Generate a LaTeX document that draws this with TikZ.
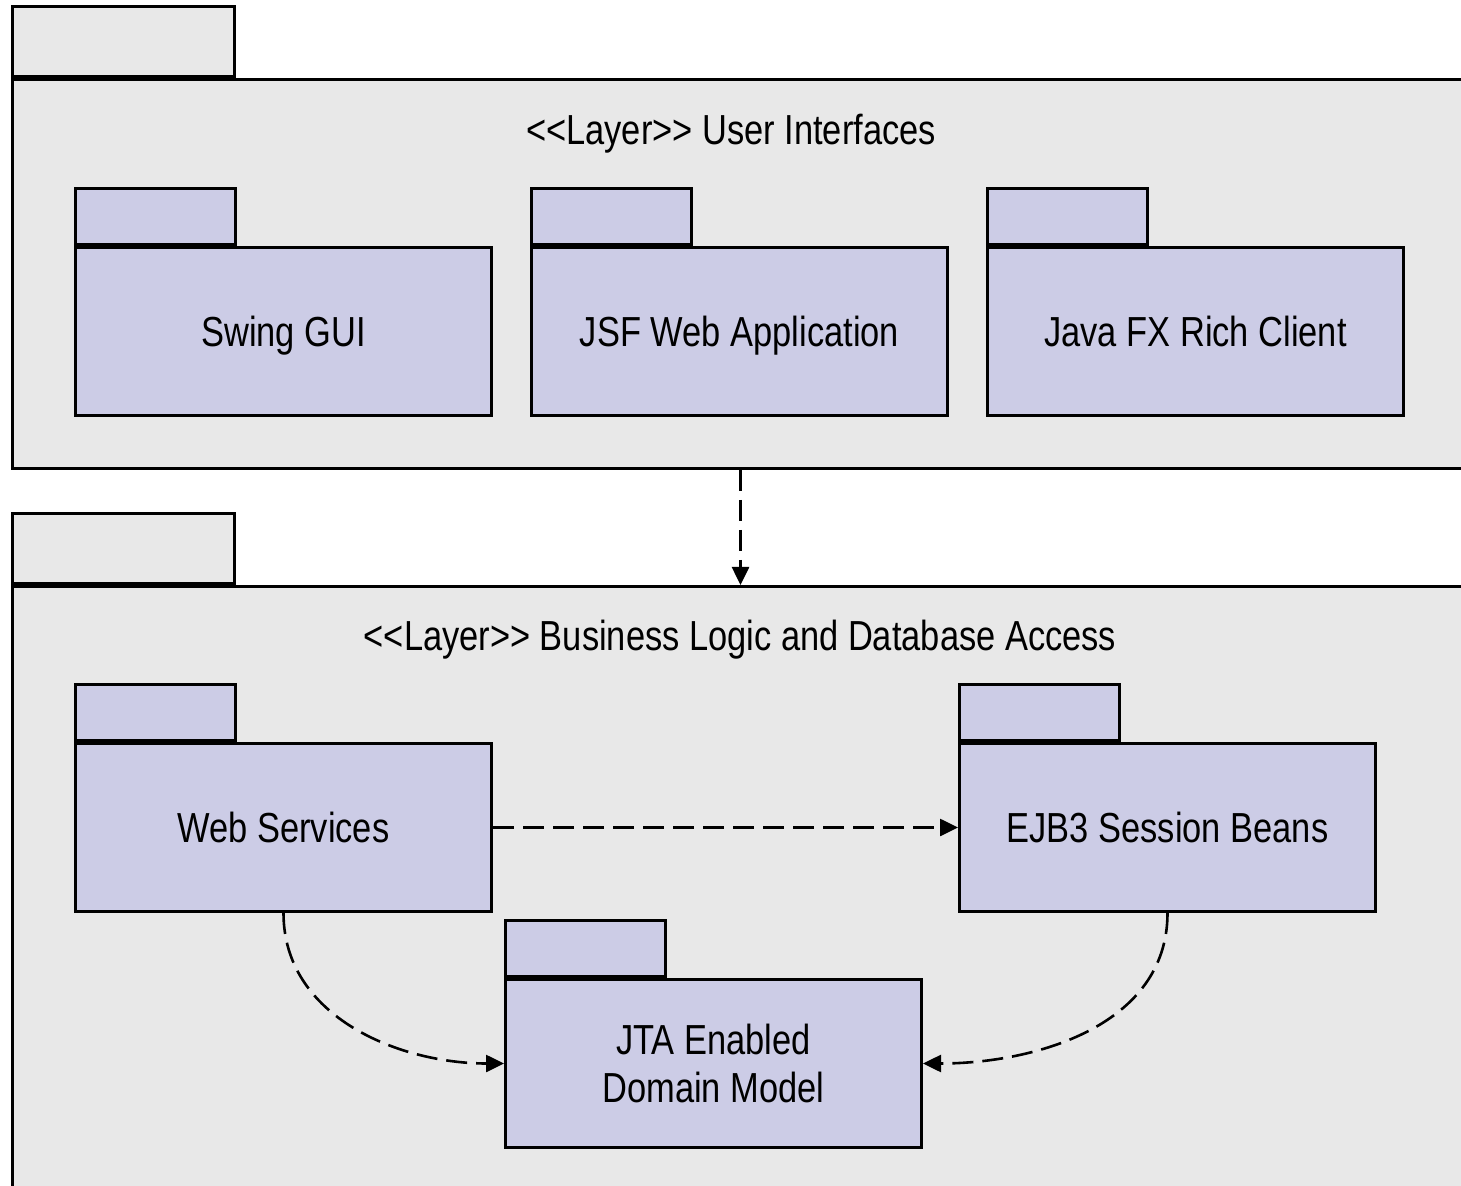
\documentclass[tikz,border=0pt]{standalone}
\usepackage{fontspec}
\setmainfont{Liberation Sans}[FakeStretch=0.82, Ligatures=TeXOff]
\usetikzlibrary{arrows.meta,positioning}
\definecolor{layerfill}{HTML}{E8E8E8}
\definecolor{pkgfill}{HTML}{CCCCE6}
\tikzset{
  caps/.style={text height=15pt, text depth=0pt},
  layerbody/.style={draw, line width=1.5pt, fill=layerfill, anchor=north west, inner sep=0pt},
  layertab/.style={draw, line width=1.5pt, fill=layerfill, anchor=south west, minimum width=111pt, minimum height=35pt, inner sep=0pt},
  pkgbody/.style={draw, line width=1.5pt, fill=pkgfill, anchor=north west, minimum width=208pt, minimum height=84pt, inner sep=0pt, align=center},
  pkgtab/.style={draw, line width=1.5pt, fill=pkgfill, anchor=south west, minimum width=80pt, minimum height=28pt, inner sep=0pt},
  dep/.style={line width=1.3pt, dash pattern=on 10.5pt off 4.5pt, -{Triangle[length=9pt,width=8.5pt]}}
}
\begin{document}
\begin{tikzpicture}[x=.5pt, y=-.5pt, font=\fontsize{21}{24}\selectfont, line join=miter]
  \fill[white] (0,0) rectangle (1461,1186);
  \useasboundingbox (0,0) rectangle (1461,1186);
  \clip (0,0) rectangle (1461,1186);
  % layer: user interfaces
  \node[layerbody, minimum width=728pt, minimum height=194.5pt] (ui) at (11,78) {};
  \node[layertab] (uitab) at (ui.north west) {};
  \node[caps] (uititle) at (731,130) {<<Layer>> User Interfaces};
  \node[pkgbody, caps] (swing) at (74,246) {Swing GUI};
  \node[pkgtab] (swingtab) at (swing.north west) {};
  \node[pkgbody, caps] (jsf) at (530,246) {JSF Web Application};
  \node[pkgtab] (jsftab) at (jsf.north west) {};
  \node[pkgbody, caps] (javafx) at (986,246) {Java FX Rich Client};
  \node[pkgtab] (javafxtab) at (javafx.north west) {};
  % layer: business logic
  \node[layerbody, minimum width=728pt, minimum height=310pt] (bl) at (11,585) {};
  \node[layertab] (bltab) at (bl.north west) {};
  \node[caps] (bltitle) at (740,636) {<<Layer>> Business Logic and Database Access};
  \node[pkgbody, caps] (web) at (74,742) {Web Services};
  \node[pkgtab] (webtab) at (web.north west) {};
  \node[pkgbody, caps] (ejb) at (958,742) {EJB3 Session Beans};
  \node[pkgtab] (ejbtab) at (ejb.north west) {};
  \node[pkgbody] (jta) at (504,978) {JTA Enabled\\Domain Model};
  \node[pkgtab] (jtatab) at (jta.north west) {};
  % dependencies
  \draw[dep] (ui.south) -- (bl.north);
  \draw[dep] (web.east) -- (ejb.west);
  \draw[dep] (web.south) to[out=-90, in=180] (jta.west);
  \draw[dep] (ejb.south) to[out=-90, in=0] (jta.east);
\end{tikzpicture}
\end{document}
